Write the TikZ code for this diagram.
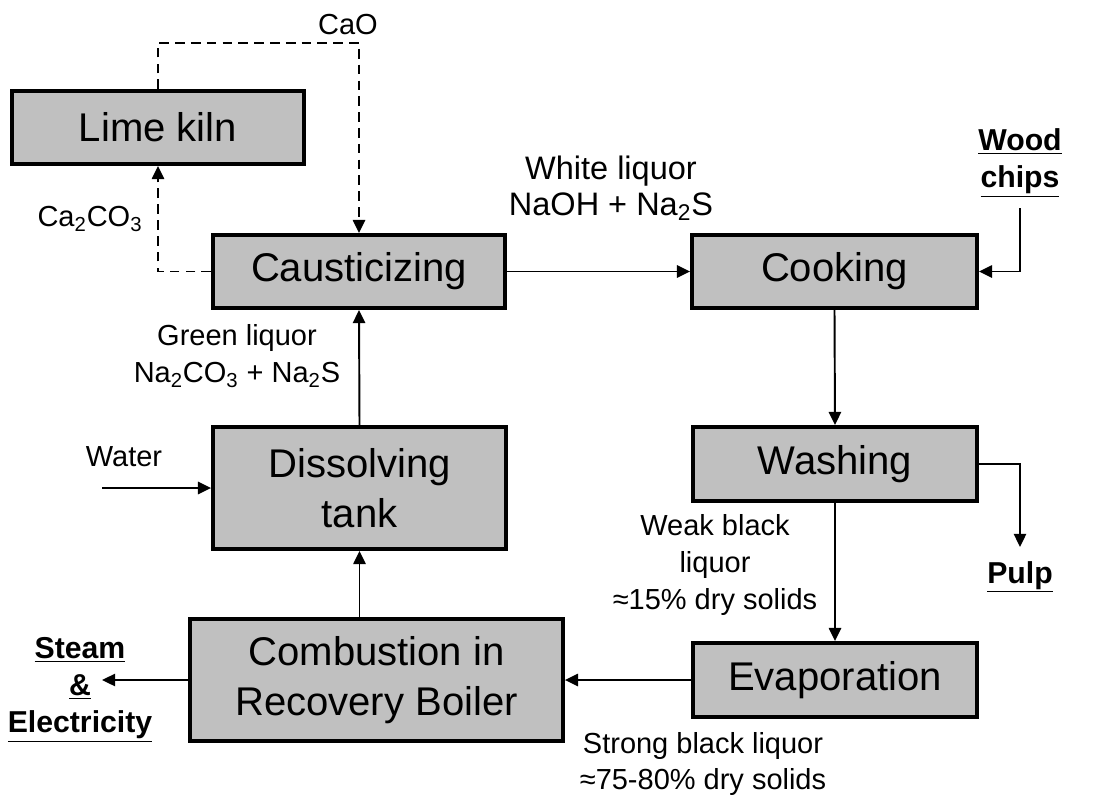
\documentclass[tikz,border=0pt]{standalone}
\usepackage{fontspec}
\setmainfont{Liberation Sans}
\usetikzlibrary{arrows.meta}
\definecolor{boxgray}{HTML}{C0C0C0}
\tikzset{
  procbox/.style={draw=black, fill=boxgray, line width=2.2pt, align=center, inner sep=0pt,
    font=\fontsize{22.8}{28.5}\selectfont},
  lbl/.style={align=center, inner sep=0pt, font=\fontsize{16.5}{21}\selectfont},
  blbl/.style={align=center, inner sep=0pt, font=\fontsize{17.2}{21}\selectfont\bfseries},
  flow/.style={line width=1.1pt, -{Triangle[length=7.5pt,width=7pt]}},
  dflow/.style={flow, dash pattern=on 5.5pt off 3.5pt},
}
\begin{document}
\begin{tikzpicture}[x=0.02cm, y=-0.02cm]
\useasboundingbox (0,0) rectangle (1116,798);
% boxes
\node[procbox, minimum width=5.84cm, minimum height=1.46cm] (lime) at (158,127.5) {Lime kiln};
\node[procbox, minimum width=5.84cm, minimum height=1.46cm] (caus) at (359,271.5) {\raisebox{-3pt}{Causticizing}};
\node[procbox, minimum width=5.7cm, minimum height=1.46cm] (cook) at (834.5,271.5) {\raisebox{-3pt}{Cooking}};
\node[procbox, minimum width=5.68cm, minimum height=1.48cm] (wash) at (835,464) {\raisebox{-3pt}{Washing}};
\node[procbox, minimum width=5.68cm, minimum height=1.48cm] (evap) at (835,680) {\raisebox{-2pt}{Evaporation}};
\node[procbox, minimum width=5.86cm, minimum height=2.44cm] (diss) at (359.5,488) {Dissolving\\tank};
\node[procbox, minimum width=7.46cm, minimum height=2.44cm] (comb) at (376.5,680) {Combustion in\\Recovery Boiler};
% coordinates for free ends
\coordinate (topc) at (359,43);
\coordinate (wc) at (1020,208);
\coordinate (pulpc) at (1020,547);
\coordinate (waterc) at (102,488);
\coordinate (steamc) at (102,680);
% labels
\node[lbl] (cao) at (348,25) {CaO};
\node[lbl] (caco) at (90,219) {Ca\textsubscript{2}CO\textsubscript{3}};
\node[lbl, font=\fontsize{18.5}{20.5}\selectfont] (white) at (611,188) {White liquor\\NaOH + Na\textsubscript{2}S};
\node[lbl] (green) at (237,356) {Green liquor\\Na\textsubscript{2}CO\textsubscript{3} + Na\textsubscript{2}S};
\node[lbl] (water) at (124,457) {Water};
\node[lbl] (weak) at (715,565) {Weak black\\liquor\\\char"2248 15\% dry solids};
\node[lbl] (strong) at (703,764) {Strong black liquor\\\char"2248 75-80\% dry solids};
\node[blbl] (wood) at (1020,163) {\underline{Wood}\\\underline{chips}};
\node[blbl] (pulp) at (1020,577) {\underline{Pulp}};
\node[blbl] (steam) at (80,690) {\underline{Steam}\\\underline{\&}\\\underline{Electricity}};
% connectors
\draw[dflow] (caus.west) -| (lime.south);
\draw[dflow] (lime.north) |- (topc) -- (caus.north);
\draw[flow] (caus.east) -- (cook.west);
\draw[flow] (wc) |- (cook.east);
\draw[flow] (cook.south) -- (wash.north);
\draw[flow] (wash.east) -| (pulpc);
\draw[flow] (wash.south) -- (evap.north);
\draw[flow] (evap.west) -- (comb.east);
\draw[flow] (diss.south |- comb.north) -- (diss.south);
\draw[flow] (diss.north) -- (caus.south);
\draw[flow] (waterc) -- (diss.west);
\draw[flow] (comb.west) -- (steamc);
\end{tikzpicture}
\end{document}
